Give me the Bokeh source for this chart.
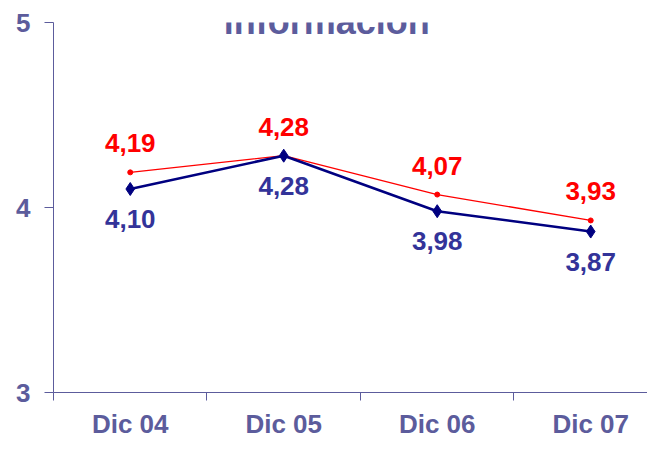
from bokeh.plotting import figure
from bokeh.models import Range1d, FixedTicker, Label, ColumnDataSource
from bokeh.core.properties import value
from bokeh.embed import file_html
from bokeh.resources import INLINE

categories = ["Dic 04", "Dic 05", "Dic 06", "Dic 07"]
serie_azul = [4.10, 4.28, 3.98, 3.87]
serie_roja = [4.19, 4.28, 4.07, 3.93]
y_ticks = [3, 4, 5]
title_text = "informacion"

xs = [i + 0.5 for i in range(len(categories))]
axis_color = "#5c5c9c"
font = "Liberation Sans"

p = figure(width=647, height=441, output_backend="svg", toolbar_location=None,
           x_range=Range1d(0, 3.87), y_range=Range1d(3, 5),
           min_border_left=53, min_border_right=0, min_border_top=22, min_border_bottom=47)
p.outline_line_color = None
p.grid.grid_line_color = None
p.background_fill_color = "white"

# x axis
xt = FixedTicker(ticks=xs, minor_ticks=[0, 1, 2, 3])
p.xaxis.ticker = xt
p.xaxis.major_label_overrides = {x: c for x, c in zip(xs, categories)}
p.xaxis.major_tick_out = 0
p.xaxis.major_tick_in = 0
p.xaxis.minor_tick_out = 8
p.xaxis.minor_tick_in = 0
p.xaxis.minor_tick_line_color = axis_color
p.xaxis.axis_line_color = axis_color
p.xaxis.major_label_text_font = font
p.xaxis.major_label_text_font_style = "bold"
p.xaxis.major_label_text_font_size = "26px"
p.xaxis.major_label_text_color = axis_color
p.xaxis.major_label_standoff = 8

# y axis
p.yaxis.ticker = FixedTicker(ticks=y_ticks, minor_ticks=[])
p.yaxis.major_tick_out = 9
p.yaxis.major_tick_in = 0
p.yaxis.major_tick_line_color = axis_color
p.yaxis.axis_line_color = axis_color
p.yaxis.major_label_text_font = font
p.yaxis.major_label_text_font_style = "bold"
p.yaxis.major_label_text_font_size = "26px"
p.yaxis.major_label_text_color = axis_color
p.yaxis.major_label_standoff = 14

lab_r = [f"{v:.2f}".replace(".", ",") for v in serie_roja]
lab_b = [f"{v:.2f}".replace(".", ",") for v in serie_azul]
src = ColumnDataSource(dict(x=xs, r=serie_roja, b=serie_azul, lr=lab_r, lb=lab_b))

p.line("x", "r", source=src, line_color="#ff0000", line_width=1.3)
p.scatter("x", "r", source=src, marker="circle", size=5, fill_color="#ff0000", line_color="#ff0000")
p.line("x", "b", source=src, line_color="#000080", line_width=2.5)
p.scatter("x", "b", source=src, marker="diamond", size=13, fill_color="#000080", line_color="#000080")

p.text("x", "r", text="lr", source=src, y_offset=-29, text_align="center", text_baseline="middle",
       text_font=value(font), text_font_style="bold", text_font_size="26px", text_color="#ff0000")
p.text("x", "b", text="lb", source=src, y_offset=30, text_align="center", text_baseline="middle",
       text_font=value(font), text_font_style="bold", text_font_size="26px", text_color="#333399")

p.add_layout(Label(x=1.78, y=5, text=title_text, text_align="center", text_baseline="top",
                   text_font=font, text_font_style="bold", text_font_size="36px",
                   text_color=axis_color, y_offset=22))

open("out.html", "w").write(file_html(p, INLINE))
